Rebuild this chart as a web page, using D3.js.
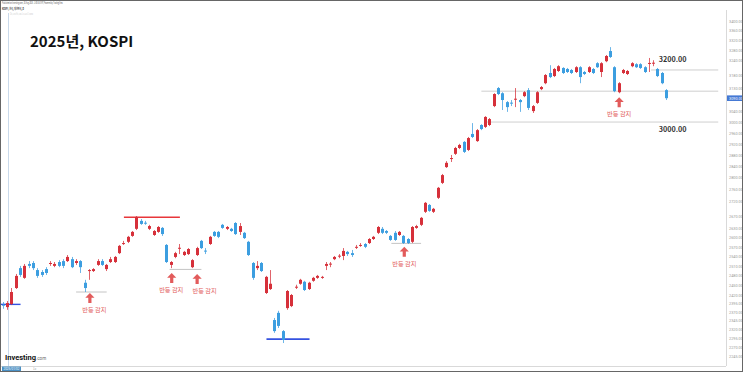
<!DOCTYPE html>
<html>
<head>
<meta charset="utf-8">
<title>2025년, KOSPI</title>
<script src="https://d3js.org/d3.v7.min.js"></script>
<style>
  body { margin: 0; background: #fff; }
  svg { display: block; font-family: "Noto Sans CJK KR", "Noto Sans", sans-serif; }
</style>
</head>
<body>
<div id="chart"></div>
<script>
// daily candles, 2024-12-30 .. 2025-08-20 (index = trading day)
const opens = [2392,2385,2394,2442,2503,2473,2516,2519,2497,2491,2500,2516,2510,2522,2525,2525,2531,2519,2525,2458,
  2494,2494,2513,2525,2500,2522,2522,2550,2579,2586,2605,2628,2654,2648,2628,2608,2618,2631,2576,2513,
  2538,2564,2544,2547,2506,2544,2589,2558,2579,2618,2618,2641,2628,2628,2647,2618,2615,2586,2519,2503,
  2519,2427,2439,2347,2368,2315,2382,2388,2443,2455,2461,2439,2464,2473,2473,2510,2515,2531,2540,2541,
  2554,2550,2568,2574,2579,2582,2595,2615,2628,2621,2605,2615,2608,2605,2595,2586,2631,2641,2684,2707,
  2684,2731,2782,2837,2866,2884,2905,2927,2898,2956,2930,2989,2982,2989,3060,3129,3109,3075,3073,3086,
  3083,3098,3121,3041,3072,3125,3148,3188,3176,3196,3208,3204,3200,3192,3211,3192,3192,3204,3227,3192,
  3235,3276,3211,3113,3188,3184,3215,3223,3223,3211,3226,3227,3204,3188,3121];
const highs = [2400,2403,2442,2485,2510,2516,2525,2525,2503,2497,2506,2525,2522,2528,2531,2544,2538,2531,2528,2467,
  2500,2503,2531,2531,2516,2538,2541,2576,2589,2605,2621,2670,2660,2654,2641,2624,2637,2634,2579,2525,
  2554,2579,2557,2566,2531,2570,2592,2566,2605,2621,2621,2644,2637,2631,2650,2647,2618,2589,2522,2525,
  2522,2479,2497,2353,2374,2318,2436,2424,2452,2470,2464,2461,2476,2482,2479,2522,2522,2541,2547,2566,
  2557,2560,2576,2582,2582,2598,2605,2637,2634,2624,2608,2621,2621,2608,2598,2637,2641,2667,2717,2710,
  2697,2768,2813,2858,2880,2909,2920,2930,2945,2996,2974,2992,3022,3015,3109,3133,3113,3079,3083,3129,
  3087,3117,3129,3064,3117,3137,3184,3219,3208,3219,3211,3208,3204,3215,3215,3196,3215,3208,3231,3231,
  3260,3292,3215,3152,3204,3200,3231,3227,3227,3215,3248,3239,3208,3192,3125];
const lows = [2380,2377,2391,2439,2476,2470,2503,2497,2473,2476,2482,2510,2506,2506,2503,2522,2503,2513,2488,2430,
  2467,2491,2510,2510,2494,2519,2519,2547,2576,2582,2602,2624,2641,2641,2624,2605,2615,2605,2519,2503,
  2534,2547,2541,2544,2503,2541,2563,2547,2576,2602,2598,2628,2624,2618,2608,2608,2595,2541,2467,2497,
  2491,2424,2436,2310,2324,2281,2377,2385,2439,2452,2433,2436,2461,2470,2470,2497,2506,2528,2534,2528,
  2541,2538,2563,2570,2566,2579,2592,2611,2611,2611,2589,2589,2605,2579,2579,2582,2628,2637,2680,2684,
  2680,2727,2778,2834,2855,2880,2901,2887,2894,2941,2927,2970,2978,2985,3056,3102,3045,3038,3060,3056,
  3038,3094,3045,3034,3068,3121,3144,3168,3172,3192,3184,3188,3184,3188,3148,3180,3188,3184,3208,3172,
  3231,3248,3113,3109,3184,3180,3211,3208,3204,3188,3192,3215,3172,3144,3083];
const closes = [2389,2397,2430,2479,2482,2510,2510,2503,2479,2482,2488,2519,2516,2510,2510,2538,2506,2525,2506,2442,
  2497,2500,2525,2513,2513,2531,2538,2573,2582,2602,2618,2667,2644,2646,2637,2621,2634,2611,2522,2522,
  2550,2567,2554,2563,2528,2566,2566,2556,2602,2605,2602,2631,2634,2621,2611,2637,2598,2544,2473,2510,
  2494,2476,2455,2315,2330,2290,2433,2421,2446,2467,2436,2458,2473,2479,2476,2516,2517,2538,2542,2557,
  2547,2544,2570,2576,2570,2595,2602,2634,2615,2615,2592,2592,2618,2582,2582,2634,2637,2664,2714,2687,
  2694,2765,2809,2852,2869,2905,2916,2891,2941,2945,2970,2974,3019,3011,3106,3106,3083,3056,3071,3088,
  3075,3113,3053,3060,3113,3133,3180,3172,3204,3215,3188,3192,3188,3211,3172,3184,3211,3188,3211,3227,
  3256,3252,3117,3148,3200,3196,3227,3211,3208,3192,3228,3229,3176,3148,3090];

const priceTicks = [3400,3360,3320,3280,3240,3180,3130,3040,3000,2960,2920,2880,2840,2800,2760,2720,2670,2630,
  2600,2570,2540,2510,2480,2450,2420,2395,2370,2345,2320,2295,2270,2245];

// drawn level lines (price, from/to in trading-day index)
const levelPrices = [2666, 2393, 2292, 2430, 2499, 2581, 3117, 3000, 3200];
const levelFrom   = [28, -0.8, 61.1, 16.9, 38.6, 90.1, 111, 112, 150.4];
const levelTo     = [41, 4, 71.1, 24, 46, 97, 166, 166, 166];
const levelColors = ["#e8363a", "#3552e0", "#3552e0", "#c4c4c4", "#c4c4c4", "#c4c4c4", "#cfcfcf", "#cfcfcf", "#cfcfcf"];
const levelWidths = [1.6, 1.4, 1.6, 1, 1, 1, 1, 1, 1];

// "반등 감지" markers
const markIndex = [20.1, 39.1, 45, 93.1, 143];
const markPrice = [2427, 2488, 2485, 2570, 3094];
const markTextShift = [4.5, -0.5, 7.5, 0, 0];

const levelLabels = ["3200.00", "3000.00"];
const levelLabelPrices = [3200, 3000];

const width = 743, height = 372;
const plotRight = 726, plotBottom = 366;
const upColor = "#d6303a", downColor = "#3c9ee0";
const markColor = "#e25b5b";

const svg = d3.select("#chart").append("svg")
  .attr("width", width)
  .attr("height", height);

svg.append("rect").attr("width", width).attr("height", height).attr("fill", "#fff");

const x = d3.scaleLinear().domain([-0.77, 167.8]).range([0, plotRight]);
const y = d3.scaleLog().domain([2217, 3490]).range([plotBottom, 0]);

const candles = opens.map((o, i) => ({i, o, h: highs[i], l: lows[i], c: closes[i]}));

// header
svg.append("text").attr("x", 2).attr("y", 4).attr("font-size", 3).attr("fill", "#555")
  .attr("textLength", 61).attr("lengthAdjust", "spacingAndGlyphs")
  .text("Published on Investing.com, 20-Aug-2025 - 2:00:53 GMT, Powered by TradingView.");
svg.append("text").attr("x", 2).attr("y", 9.5).attr("font-size", 3.2).attr("font-weight", "bold").attr("fill", "#333")
  .attr("textLength", 22).attr("lengthAdjust", "spacingAndGlyphs")
  .text("KOSPI, 한국, 대한민국, D");
svg.append("text").attr("x", 10).attr("y", 15).attr("font-size", 2.8).attr("fill", "#ccc")
  .attr("textLength", 23).attr("lengthAdjust", "spacingAndGlyphs")
  .text("O3,135 H3,155 L3,124 C3,090");

// crosshair vertical
svg.append("line").attr("x1", 8.5).attr("x2", 8.5).attr("y1", 13).attr("y2", plotBottom)
  .attr("stroke", "#c9d9ea").attr("stroke-width", 1);

// axes lines
svg.append("line").attr("x1", plotRight + 0.5).attr("x2", plotRight + 0.5).attr("y1", 10).attr("y2", plotBottom)
  .attr("stroke", "#d9d9d9");
svg.append("line").attr("x1", 0).attr("x2", plotRight).attr("y1", plotBottom + 0.5).attr("y2", plotBottom + 0.5)
  .attr("stroke", "#d9d9d9");

const yAxis = svg.append("g")
  .attr("transform", `translate(${plotRight},0)`)
  .call(d3.axisRight(y).tickValues(priceTicks).tickFormat(d3.format(".2f")).tickSize(0).tickPadding(3));
yAxis.select(".domain").remove();
yAxis.selectAll("text").attr("font-size", 3.8).attr("fill", "#999")
  .attr("font-family", "Roboto, sans-serif");

// level lines
svg.append("g").selectAll("line")
  .data(levelPrices)
  .join("line")
  .attr("x1", (p, k) => Math.max(0, x(levelFrom[k])))
  .attr("x2", (p, k) => x(levelTo[k]))
  .attr("y1", p => y(p))
  .attr("y2", p => y(p))
  .attr("stroke", (p, k) => levelColors[k])
  .attr("stroke-width", (p, k) => levelWidths[k]);

// candles
const g = svg.append("g");
const cx = d => Math.round(x(d.i) - 1.5);
g.selectAll(".wick")
  .data(candles)
  .join("line")
  .attr("class", "wick")
  .attr("x1", d => cx(d) + 1.5)
  .attr("x2", d => cx(d) + 1.5)
  .attr("y1", d => y(d.h))
  .attr("y2", d => y(d.l))
  .attr("stroke", d => d.c >= d.o ? upColor : downColor)
  .attr("stroke-opacity", 0.75)
  .attr("stroke-width", 1);
g.selectAll(".body")
  .data(candles)
  .join("rect")
  .attr("class", "body")
  .attr("x", cx)
  .attr("width", 3)
  .attr("y", d => y(Math.max(d.o, d.c)))
  .attr("height", d => Math.max(1, Math.abs(y(d.o) - y(d.c))))
  .attr("fill", d => d.c >= d.o ? upColor : downColor);

// level labels
svg.append("g").selectAll("text")
  .data(levelLabelPrices)
  .join("text")
  .attr("x", x(152.2))
  .attr("y", (p, k) => y(p) + (k === 0 ? -8 : 10))
  .attr("font-size", 7.2)
  .attr("font-weight", "bold")
  .attr("fill", "#333")
  .text((p, k) => levelLabels[k]);

// rebound markers
const marks = svg.append("g").selectAll("g")
  .data(markIndex)
  .join("g")
  .attr("transform", (m, k) => `translate(${x(m)},${y(markPrice[k])})`);
marks.append("path")
  .attr("d", "M0,0L4.6,4.8L1.6,4.8L1.6,10L-1.6,10L-1.6,4.8L-4.6,4.8Z")
  .attr("fill", markColor);
marks.append("text")
  .attr("x", (m, k) => markTextShift[k])
  .attr("y", 19)
  .attr("text-anchor", "middle")
  .attr("font-size", 6.2)
  .attr("fill", markColor)
  .text("반등 감지");

// current price tag
const last = closes[closes.length - 1];
svg.append("rect").attr("x", plotRight + 1).attr("y", y(last) - 2.8).attr("width", 15).attr("height", 5.6)
  .attr("fill", "#4478d4");
svg.append("text").attr("x", plotRight + 3).attr("y", y(last) + 1.4).attr("font-size", 3.8)
  .attr("fill", "#fff").attr("font-family", "Roboto, sans-serif").text(d3.format(".2f")(last));

// title
svg.append("text").attr("x", 30).attr("y", 47)
  .attr("font-size", 15).attr("font-weight", "bold").attr("fill", "#111")
  .text("2025년, KOSPI");

// logo
const logo = svg.append("text").attr("x", 5).attr("y", 360).attr("font-family", "Roboto, sans-serif");
logo.append("tspan").attr("font-size", 7.5).attr("font-weight", "bold").attr("fill", "#111").text("Investing");
logo.append("tspan").attr("font-size", 4.5).attr("fill", "#666").text(".com");

// bottom date tag
svg.append("rect").attr("x", 2).attr("y", 366.5).attr("width", 19).attr("height", 4.5).attr("fill", "#4a90c4");
svg.append("text").attr("x", 3.5).attr("y", 370).attr("font-size", 3).attr("fill", "#fff")
  .attr("font-family", "Roboto, sans-serif").text("2025/01/02");
svg.append("text").attr("x", 33).attr("y", 370).attr("font-size", 3).attr("fill", "#999").text("1x");

// frame
svg.append("rect").attr("x", 0.5).attr("y", 0.5).attr("width", width - 1).attr("height", height - 1)
  .attr("fill", "none").attr("stroke", "#666").attr("stroke-width", 1);
</script>
</body>
</html>
